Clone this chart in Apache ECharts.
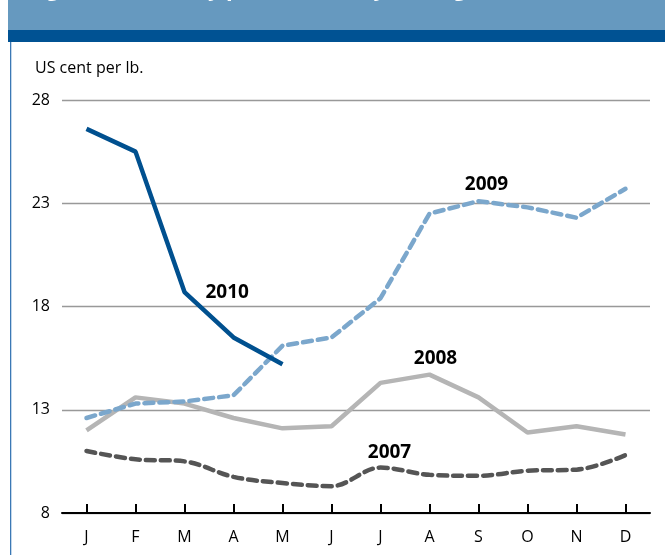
<!DOCTYPE html>
<html><head><meta charset="utf-8">
<script src="https://cdn.jsdelivr.net/npm/echarts@6/dist/echarts.min.js"></script>
<style>html,body{margin:0;padding:0;background:#fff}#c{width:665px;height:555px}</style>
</head><body><div id="c"></div>
<script>
var months = ['J','F','M','A','M','J','J','A','S','O','N','D'];
var yTicks = [8, 13, 18, 23, 28];
var s2010 = [26.6, 25.5, 18.7, 16.5, 15.2];
var s2009 = [12.6, 13.3, 13.4, 13.7, 16.1, 16.5, 18.4, 22.5, 23.1, 22.8, 22.3, 23.7];
var s2008 = [12.0, 13.6, 13.3, 12.6, 12.1, 12.2, 14.3, 14.7, 13.6, 11.9, 12.2, 11.8];
var s2007 = [11.0, 10.6, 10.5, 9.75, 9.45, 9.3, 10.2, 9.85, 9.8, 10.05, 10.1, 10.8];
var titleText = 'Figure 2: ISA daily price: monthly averages (ISA)';
var unitText = 'US cent per lb.';

var lblFont = {show: true, color: '#000', fontSize: 19, fontWeight: 'bold', fontFamily: 'Open Sans'};
function nameMark(arr, idx, name, pos, off) {
  return {
    symbol: 'circle', symbolSize: 0, silent: true,
    itemStyle: {color: 'transparent'},
    label: Object.assign({}, lblFont, {formatter: name, position: pos, offset: off}),
    data: [{coord: [idx, arr[idx]]}]
  };
}

var chart = echarts.init(document.getElementById('c'), null, {renderer: 'canvas'});
chart.setOption({
  animation: false,
  backgroundColor: '#fff',
  textStyle: {fontFamily: 'Open Sans'},
  grid: {left: 62, right: 15, top: 100, bottom: 42},
  graphic: [
    {type: 'rect', shape: {x: 8, y: 0, width: 657, height: 30}, style: {fill: '#6699bf'}, silent: true},
    {type: 'rect', shape: {x: 8, y: 30, width: 657, height: 12}, style: {fill: '#005293'}, silent: true},
    {type: 'rect', shape: {x: 10, y: 42, width: 1.3, height: 513}, style: {fill: '#3b78b5'}, silent: true},
    {type: 'text', x: 28, y: 0.5, style: {text: titleText, fill: '#fff', font: 'bold 22px "Open Sans"', verticalAlign: 'bottom'}, silent: true},
    {type: 'text', x: 35, y: 68, style: {text: unitText, fill: '#000', font: '16px "Open Sans"', verticalAlign: 'middle'}, silent: true}
  ],
  xAxis: {
    type: 'category', data: months, boundaryGap: true,
    axisLine: {lineStyle: {color: '#000', width: 2}},
    axisTick: {show: true, inside: true, length: 9, alignWithLabel: true, lineStyle: {color: '#000', width: 2}},
    axisLabel: {color: '#000', fontSize: 16, margin: 16}
  },
  yAxis: {
    type: 'value', min: 8, max: 28, interval: 5,
    axisLine: {show: false}, axisTick: {show: false},
    axisLabel: {color: '#000', fontSize: 16, margin: 12, formatter: function (v) { return yTicks.indexOf(v) >= 0 ? String(v) : ''; }},
    splitLine: {lineStyle: {color: '#999', width: 1.3}}
  },
  series: [
    {name: '2007', type: 'line', data: s2007, smooth: 0.35, symbol: 'none',
      lineStyle: {color: '#555555', width: 4.5, type: [9, 6], cap: 'round'}, z: 2,
      markPoint: nameMark(s2007, 6, '2007', 'top', [9, 0])},
    {name: '2008', type: 'line', data: s2008, symbol: 'none',
      lineStyle: {color: '#b5b5b5', width: 4.5}, z: 3,
      markPoint: nameMark(s2008, 7, '2008', 'top', [6, -2])},
    {name: '2009', type: 'line', data: s2009, symbol: 'none',
      lineStyle: {color: '#7ba7cc', width: 4.5, type: [9, 6], cap: 'round'}, z: 4,
      markPoint: nameMark(s2009, 8, '2009', 'top', [8, -2])},
    {name: '2010', type: 'line', data: s2010, symbol: 'none',
      lineStyle: {color: '#00508f', width: 4.5}, z: 5,
      markPoint: nameMark(s2010, 2, '2010', 'right', [16, 1])}
  ]
});
</script></body></html>
